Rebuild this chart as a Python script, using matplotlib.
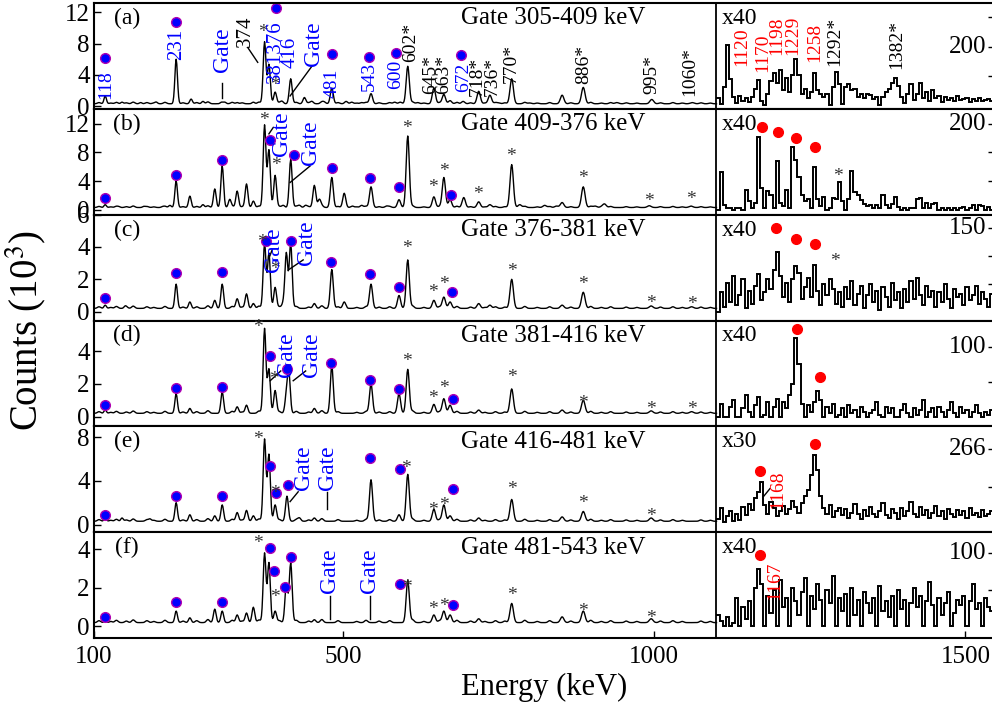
import numpy as np
import matplotlib.pyplot as plt

plt.rcParams['font.family'] = ['Liberation Serif', 'DejaVu Serif']
plt.rcParams['mathtext.fontset'] = 'stix'

E_SPLIT = 1100
E_MAX = 1545.8
RIGHT_BIN = 5

tags = ['(a)', '(b)', '(c)', '(d)', '(e)', '(f)']
gate_titles = ['Gate 305-409 keV', 'Gate 409-376 keV', 'Gate 376-381 keV',
               'Gate 381-416 keV', 'Gate 416-481 keV', 'Gate 481-543 keV']
scale_labels = ['x40', 'x40', 'x40', 'x40', 'x30', 'x40']
ylims = [(-0.35, 13.2), (-0.7, 14.1), (-0.55, 6.0), (-0.6, 5.9), (-0.7, 9.0), (-0.6, 4.9)]
yticks = [[0, 4, 8, 12], [0, 4, 8, 12], [0, 2, 4, 6], [0, 2, 4], [0, 4, 8], [0, 2, 4]]
right_ticks = [[3.8, 7.6, 11.4], [4, 8, 12], [1.73, 3.47, 5.2], [2.15, 4.3], [3.45, 6.9], [1.9, 3.8]]
right_labels = [(7.6, '200'), (12, '200'), (5.2, '150'), (4.3, '100'), (6.9, '266'), (3.8, '100')]
baselines = [0.3, 0.3, 0.2, 0.2, 0.3, 0.2]

# weak background structure seen in every gate (energy keV, fraction of the baseline)
ripple_e = [108, 127, 136, 152, 163, 185, 196, 214, 243, 265, 283, 322, 338, 365, 398, 425,
            445, 466, 492, 522, 537, 558, 575, 612, 630, 655, 683, 705, 728, 745, 760, 792,
            812, 832, 866, 898, 915, 930, 955, 972, 1010, 1030, 1045, 1075, 1090]
ripple_f = [0.5, 0.3, 0.6, 0.4, 0.7, 0.5, 0.3, 0.6, 0.4, 0.5, 0.8, 0.6, 0.4, 0.7, 0.5, 0.6,
            0.4, 0.8, 0.5, 0.3, 0.6, 0.4, 0.5, 0.7, 0.3, 0.5, 0.6, 0.4, 0.3, 0.5, 0.4, 0.6,
            0.3, 0.5, 0.4, 0.6, 0.3, 0.5, 0.4, 0.3, 0.4, 0.5, 0.3, 0.4, 0.3]

# peaks in the 100-1100 keV part: (energy keV, height in 10^3 counts above baseline)
peaks_a = [(118, 1.0), (145, 0.2), (175, 0.15), (200, 0.2), (232, 5.7), (256, 0.6), (275, 0.3),
           (305, 0.2), (310, 0.2), (330, 0.15), (356, 0.2), (374, 7.9), (381, 5.0), (391, 1.5),
           (402, 0.3), (416, 3.2), (438, 0.8), (450, 0.3), (470, 0.2), (482, 2.0), (505, 0.3),
           (514, 0.2), (530, 0.15), (545, 1.3), (583, 0.2), (592, 0.2), (604, 4.8), (620, 0.15),
           (646, 2.0), (662, 1.2), (672, 0.4), (693, 0.3), (718, 1.6), (736, 1.1), (750, 0.1),
           (771, 3.2), (800, 0.1), (852, 1.1), (886, 2.1), (940, 0.15), (996, 0.55), (1061, 0.15)]
peaks_b = [(118, 0.4), (140, 0.1), (180, 0.15), (210, 0.1), (222, 0.3), (232, 3.7), (254, 1.6),
           (275, 0.4), (294, 2.6), (306, 5.8), (318, 1.1), (330, 2.3), (345, 3.3), (356, 0.9),
           (374, 11.5), (381, 8.0), (391, 4.5), (404, 0.3), (416, 6.7), (430, 0.3), (440, 0.3),
           (454, 3.1), (462, 1.1), (482, 4.2), (502, 2.0), (515, 0.2), (530, 0.3), (545, 2.9),
           (570, 0.2), (590, 1.1), (604, 10.0), (646, 1.5), (662, 4.2), (672, 1.1), (694, 1.4),
           (718, 0.8), (736, 0.4), (771, 6.0), (784, 0.4), (824, 0.3), (843, 0.2), (852, 0.7),
           (886, 2.9), (905, 0.2), (920, 0.5), (992, 0.25), (1059, 0.2)]
peaks_c = [(118, 0.2), (150, 0.1), (232, 1.5), (254, 0.4), (294, 0.5), (306, 1.5), (330, 0.6),
           (345, 0.9), (356, 0.3), (374, 4.0), (381, 3.4), (391, 1.3), (404, 0.3), (409, 3.4),
           (416, 4.0), (454, 0.3), (482, 2.4), (502, 0.4), (545, 1.5), (590, 0.8), (604, 3.0),
           (646, 0.5), (662, 0.7), (672, 0.4), (718, 0.3), (736, 0.2), (771, 1.8), (852, 0.2),
           (886, 1.0), (995, 0.15), (1060, 0.1)]
peaks_d = [(118, 0.2), (232, 1.2), (254, 0.3), (306, 1.3), (330, 0.4), (345, 0.5), (374, 5.2),
           (381, 2.7), (391, 1.4), (409, 1.0), (413, 2.4), (454, 0.3), (482, 2.9), (545, 1.8),
           (590, 1.2), (604, 2.7), (646, 0.55), (662, 0.9), (672, 0.5), (718, 0.2), (771, 1.5),
           (852, 0.2), (886, 0.8), (995, 0.15), (1060, 0.1)]
peaks_e = [(118, 0.3), (145, 0.3), (190, 0.2), (232, 1.7), (254, 0.6), (294, 0.5), (306, 1.5),
           (330, 0.8), (345, 1.0), (356, 0.5), (374, 7.5), (381, 6.1), (391, 1.5), (410, 2.3),
           (430, 0.3), (454, 0.3), (545, 3.8), (590, 0.6), (604, 4.3), (646, 1.1), (662, 1.5),
           (672, 0.5), (718, 0.3), (771, 2.0), (852, 0.4), (886, 0.9), (995, 0.3)]
peaks_f = [(118, 0.1), (232, 0.6), (254, 0.25), (294, 0.7), (306, 0.6), (330, 0.4), (345, 0.5),
           (356, 0.8), (374, 3.6), (381, 3.1), (391, 0.6), (409, 2.0), (416, 3.1), (454, 0.15),
           (604, 2.2), (646, 0.4), (662, 0.6), (672, 0.4), (718, 0.2), (771, 1.0), (852, 0.3),
           (886, 0.6), (995, 0.2)]
left_peaks = [peaks_a, peaks_b, peaks_c, peaks_d, peaks_e, peaks_f]

# 1100-1545 keV part, 5 keV bins, already multiplied (shown in 10^3 counts)
high_a = [1.0, 0.3, 2.4, 7.8, 3.5, 1.2, 0.4, 1.3, 0.6, 1.0, 0.5, 1.2, 2.2, 3.4, 0.6, 0.2, 1.5, 3.2,
          4.2, 3.0, 4.6, 2.0, 3.6, 1.8, 4.0, 6.0, 4.0, 1.5, 2.2, 1.0, 1.8, 4.3, 2.0, 1.6, 1.2, 1.6,
          0.2, 2.5, 4.4, 2.8, 0.3, 2.4, 2.8, 2.0, 2.2, 1.2, 1.6, 1.0, 1.6, 1.4, 0.9, 1.2, 0.1, 1.2,
          1.8, 2.2, 3.0, 3.6, 2.6, 1.2, 0.4, 1.5, 2.8, 0.8, 1.6, 2.9, 1.0, 1.8, 0.6, 2.0, 1.0, 1.3,
          0.5, 1.2, 0.8, 1.0, 0.6, 1.3, 0.8, 0.9, 1.1, 0.5, 0.9, 0.7, 1.0, 0.6, 0.8, 0.9, 0.7]
high_b = [0.0, 5.2, 0.6, 0.3, 0.2, 0.0, 0.3, 0.2, 0.0, 2.8, 1.2, 0.3, 1.0, 10.1, 3.0, 0.3, 2.6, 2.0,
          0.2, 6.8, 1.0, 0.5, 2.8, 0.3, 8.7, 7.0, 4.5, 2.0, 1.2, 1.5, 0.3, 5.9, 1.5, 0.5, 1.8, 0.0,
          0.3, 1.6, 1.5, 3.8, 1.2, 0.0, 1.5, 5.4, 2.5, 2.0, 1.3, 0.8, 0.5, 0.7, 0.3, 0.6, 0.2, 2.1,
          0.6, 0.2, 0.8, 1.8, 0.4, 0.0, 0.2, 0.0, 0.3, 0.2, 1.5, 1.6, 0.3, 0.9, 0.2, 0.8, 0.9, 0.0,
          0.3, 0.0, 0.2, 0.0, 0.3, 0.0, 0.2, 0.4, 0.0, 0.3, 0.7, 0.0, 0.6, 0.5, 0.0, 0.4, 0.0]
high_c = [0.0, 1.2, 0.3, 1.8, 0.6, 2.2, 0.4, 1.0, 2.0, 0.2, 1.3, 0.5, 1.6, 2.3, 0.7, 1.2, 2.0, 1.4,
          2.6, 3.7, 2.2, 0.9, 1.8, 0.6, 2.0, 2.8, 2.4, 0.8, 1.5, 2.1, 0.9, 2.9, 1.3, 0.4, 1.7, 1.0,
          2.0, 1.4, 0.5, 1.2, 0.3, 1.5, 0.8, 1.9, 0.4, 1.1, 1.6, 0.2, 1.0, 1.7, 0.6, 1.3, 0.1, 1.5,
          0.9, 0.3, 1.8, 0.7, 1.2, 0.2, 1.4, 0.6, 1.9, 0.8, 2.1, 1.0, 0.4, 1.6, 0.9, 1.3, 0.3, 1.2,
          0.6, 1.7, 0.8, 0.2, 1.4, 0.9, 1.1, 0.4, 1.5, 0.7, 1.0, 1.6, 0.5, 1.2, 0.8, 0.3, 1.1]
high_d = [0.0, 0.8, 0.0, 0.0, 0.6, 1.0, 0.0, 0.0, 0.5, 1.3, 0.3, 0.0, 0.7, 1.2, 0.0, 0.1, 0.9, 0.0,
          0.6, 1.1, 0.0, 0.9, 0.5, 1.3, 2.0, 4.8, 3.2, 0.8, 0.0, 0.7, 0.3, 0.9, 1.6, 1.0, 0.0, 0.6,
          0.2, 0.8, 0.0, 0.1, 0.5, 0.0, 0.7, 0.2, 0.4, 0.0, 0.6, 0.3, 0.0, 0.2, 0.4, 0.9, 0.1, 0.0,
          0.6, 0.2, 0.5, 0.0, 0.0, 0.4, 0.8, 0.2, 0.0, 0.5, 0.1, 0.4, 1.0, 0.0, 0.3, 0.5, 0.0, 0.6,
          0.3, 0.0, 0.4, 0.9, 0.2, 0.0, 0.6, 0.2, 0.4, 0.0, 0.3, 0.7, 0.2, 0.0, 0.3, 0.1, 0.4]
high_e = [0.5, 1.5, 0.2, 0.8, 1.2, 0.3, 1.0, 0.4, 1.6, 0.9, 1.9, 1.3, 2.4, 3.0, 3.9, 1.8, 1.0, 2.1,
          1.5, 0.8, 1.2, 1.7, 1.0, 1.4, 2.2, 1.6, 1.1, 2.0, 2.6, 3.2, 4.5, 6.4, 5.0, 2.6, 1.5, 1.0,
          1.8, 0.7, 1.2, 1.5, 0.9, 1.4, 0.6, 1.1, 1.9, 1.0, 0.5, 1.3, 0.8, 1.6, 1.0, 0.7, 1.2, 2.0,
          0.9, 0.6, 1.4, 1.1, 0.5, 1.5, 0.8, 1.2, 2.1, 1.0, 0.7, 1.6, 0.9, 1.3, 0.6, 1.1, 1.7, 0.8,
          1.2, 0.5, 1.4, 1.0, 0.7, 1.3, 0.9, 1.2, 0.6, 1.5, 0.9, 1.1, 0.7, 1.3, 0.8, 1.0, 1.2]
high_f = [0.6, 0.3, 0.0, 0.5, 0.0, 0.2, 1.5, 0.0, 1.0, 0.4, 1.3, 0.0, 2.0, 3.0, 2.2, 0.0, 1.6, 0.7,
          1.9, 0.0, 2.4, 1.0, 1.5, 0.0, 2.0, 1.3, 0.6, 1.8, 2.5, 0.0, 1.6, 0.9, 2.2, 1.4, 0.0, 1.9,
          1.2, 2.6, 0.0, 1.5, 0.8, 1.7, 0.0, 2.0, 0.6, 1.4, 0.0, 1.8, 1.2, 0.7, 1.5, 0.0, 2.1, 0.8,
          1.3, 0.5, 1.6, 0.0, 1.9, 0.9, 1.4, 0.0, 1.2, 2.0, 1.0, 1.6, 0.0, 1.3, 2.3, 1.1, 0.0, 1.5,
          0.6, 1.2, 1.8, 0.0, 0.7, 1.4, 1.1, 1.6, 0.0, 1.3, 2.2, 0.9, 1.2, 0.0, 1.5, 1.0, 0.8]
high_counts = [high_a, high_b, high_c, high_d, high_e, high_f]

# markers: blue = known transitions, red = new high-energy lines
blue_dots = [
    ([118, 232, 392, 482, 542, 585, 690], [6.2, 10.8, 12.5, 6.7, 6.3, 6.8, 6.6]),
    ([118, 232, 306, 383, 421, 482, 543, 590, 674], [1.7, 4.8, 7.0, 9.7, 7.6, 5.8, 4.4, 3.1, 2.1]),
    ([118, 232, 306, 376, 416, 481, 543, 590, 675], [0.86, 2.4, 2.45, 4.4, 4.4, 3.1, 2.3, 1.5, 1.2]),
    ([118, 232, 306, 383, 410, 481, 543, 590, 676], [0.7, 1.75, 1.8, 3.7, 2.9, 3.3, 2.25, 1.7, 1.05]),
    ([118, 232, 306, 383, 392, 411, 543, 592, 676], [0.9, 2.6, 2.6, 5.4, 2.9, 3.6, 6.1, 5.1, 3.3]),
    ([118, 232, 306, 383, 389, 407, 416, 592, 676], [0.5, 1.25, 1.25, 4.1, 2.9, 2.05, 3.6, 2.2, 1.1]),
]
red_dots = [
    ([], []),
    ([1173, 1199, 1228, 1258], [11.5, 10.8, 10.0, 8.7]),
    ([1196, 1228, 1258], [5.2, 4.5, 4.2]),
    ([1229, 1266], [5.4, 2.4]),
    ([1170, 1258], [4.9, 7.4]),
    ([1170], [3.7]),
]
stars = [
    [(371, 9.4), (391, 2.7)],
    [(373, 12.5), (392, 6.2), (603, 11.4), (645, 3.1), (662, 5.4), (717, 2.1), (770, 7.5),
     (886, 4.4), (992, 1.1), (1059, 1.4), (1295, 4.6)],
    [(370, 4.3), (391, 2.6), (603, 3.9), (645, 1.2), (662, 1.7), (771, 2.5), (886, 1.7),
     (995, 0.5), (1060, 0.45), (1290, 3.1)],
    [(363, 5.5), (389, 2.3), (603, 3.4), (645, 1.1), (662, 1.7), (771, 2.4), (886, 0.8),
     (995, 0.45), (1060, 0.45)],
    [(363, 7.8), (390, 2.8), (601, 5.1), (645, 1.3), (662, 1.75), (771, 3.2), (886, 1.9),
     (995, 0.75)],
    [(363, 4.3), (391, 1.5), (603, 2.05), (645, 0.9), (662, 1.05), (771, 1.6), (886, 0.8),
     (995, 0.4)],
]
# rotated labels: (energy, bottom, text, colour, size)
labels = [
    [(119, 0.9, '118', 'blue', 14), (232, 5.9, '231', 'blue', 15), (306, 4.4, 'Gate', 'blue', 17),
     (344, 7.6, '374', 'black', 15), (392, 3.0, '381376', 'blue', 15), (415, 4.9, '416', 'blue', 15),
     (452, 5.1, 'Gate', 'blue', 17), (482, 1.1, '481', 'blue', 14), (543, 1.9, '543', 'blue', 14),
     (585, 2.2, '600', 'blue', 14), (608, 5.7, '602*', 'black', 14), (640, 1.5, '645*', 'black', 14),
     (662, 1.5, '663*', 'black', 14), (693, 1.8, '672', 'blue', 14), (715, 1.3, '718*', 'black', 14),
     (739, 1.3, '736*', 'black', 14), (771, 3.0, '770*', 'black', 14), (886, 2.8, '886*', 'black', 14),
     (996, 1.5, '995*', 'black', 14), (1057, 1.3, '1060*', 'black', 14),
     (1141, 5.1, '1120', 'red', 14), (1175, 4.4, '1170', 'red', 14), (1196, 6.6, '1198', 'red', 14),
     (1223, 6.6, '1229', 'red', 14), (1258, 5.6, '1258', 'red', 14), (1290, 5.1, '1292*', 'black', 14),
     (1390, 4.7, '1382*', 'black', 14)],
    [(402, 7.5, 'Gate', 'blue', 17), (447, 6.3, 'Gate', 'blue', 17)],
    [(389, 2.45, 'Gate', 'blue', 17), (442, 2.9, 'Gate', 'blue', 17)],
    [(410, 2.4, 'Gate', 'blue', 17), (450, 2.4, 'Gate', 'blue', 17)],
    [(436, 3.2, 'Gate', 'blue', 17), (475, 3.2, 'Gate', 'blue', 17), (1199, 1.4, '1168', 'red', 14)],
    [(479, 1.75, 'Gate', 'blue', 17), (543, 1.75, 'Gate', 'blue', 17), (1194, 1.4, '1167', 'red', 14)],
]
leaders = [
    [((305, 305), (3.0, 1.0)), ((347, 363), (7.5, 5.6)), ((415, 450), (1.3, 5.1))],
    [((381, 388), (10.6, 11.5)), ((415, 447), (3.8, 6.1))],
    [((381, 386), (3.3, 3.8)), ((413, 436), (2.6, 3.2))],
    [((383, 400), (2.2, 2.8)), ((420, 440), (2.2, 2.8))],
    [((415, 428), (2.1, 3.0)), ((475, 475), (1.4, 3.0)), ((1176, 1186), (2.6, 3.3))],
    [((479, 479), (0.4, 1.6)), ((543, 543), (0.4, 1.6))],
]

energy = np.arange(100, E_SPLIT + 1, 1.0)
high_edges = np.arange(E_SPLIT, E_SPLIT + RIGHT_BIN * (len(high_a) + 1), RIGHT_BIN)

fig = plt.figure(figsize=(9.92, 7.07), dpi=100)
W, H = 992.0, 707.0
ax_left, ax_right, top_px, bot_px = 94, 994, 3, 638
panel_h = (bot_px - top_px) / 6.0

axes = []
for i in range(6):
    top = top_px + i * panel_h
    ax = fig.add_axes([ax_left / W, 1 - (top + panel_h) / H, (ax_right - ax_left) / W, panel_h / H])
    axes.append(ax)

    spec = np.full_like(energy, baselines[i])
    for e0, h in left_peaks[i]:
        s = 1.8 + 0.0012 * e0
        spec += h * np.exp(-0.5 * ((energy - e0) / s) ** 2)
    for e0, f in zip(ripple_e, ripple_f):
        spec += f * baselines[i] * np.exp(-0.5 * ((energy - e0) / 2.5) ** 2)
    ax.plot(energy, spec, color='black', lw=1.0)
    ax.stairs(high_counts[i], high_edges, color='black', lw=1.4, baseline=None)
    ax.axvline(E_SPLIT, color='black', lw=1.3)

    ax.set_xlim(100, E_MAX)
    ax.set_ylim(*ylims[i])
    ax.set_yticks(yticks[i])
    ax.tick_params(axis='y', direction='in', length=5, width=1, labelsize=18, pad=3)
    for sp in ax.spines.values():
        sp.set_linewidth(1.5)
    if i < 5:
        ax.set_xticks([])
    else:
        ax.set_xticks([100, 500, 1000, 1500])
        ax.tick_params(axis='x', direction='in', length=5, width=1, labelsize=18, pad=6)

    rax = ax.twinx()
    rax.set_ylim(*ylims[i])
    rax.set_yticks(right_ticks[i])
    rax.set_yticklabels([])
    rax.tick_params(axis='y', direction='in', length=4, width=1)
    for sp in rax.spines.values():
        sp.set_visible(False)
    ry, rtxt = right_labels[i]
    ax.text(1534, ry, rtxt, ha='right', va='center', fontsize=18)

    tr = ax.get_xaxis_transform()
    ax.text(837, 0.855, gate_titles[i], transform=tr, ha='center', va='center', fontsize=18)
    ax.text(153, 0.855, tags[i], transform=tr, ha='center', va='center', fontsize=17)
    ax.text(1108, 0.855, scale_labels[i], transform=tr, ha='left', va='center', fontsize=17)

    bx, by = blue_dots[i]
    ax.plot(bx, by, 'o', ms=7, mfc='blue', mec='#b000b0', mew=1.0, ls='none')
    rx, ry2 = red_dots[i]
    ax.plot(rx, ry2, 'o', ms=7, mfc='red', mec='red', ls='none')
    for ex, ey in stars[i]:
        ax.text(ex, ey, '*', ha='center', va='center', fontsize=14, color='#333333')
    for ex, ey, txt, col, fs in labels[i]:
        ax.text(ex, ey, txt, rotation=90, ha='center', va='bottom', fontsize=fs, color=col)
    for (x0, x1), (y0, y1) in leaders[i]:
        ax.plot([x0, x1], [y0, y1], color='black', lw=1.0)

fig.text(0.026, 0.533, 'Counts (10$^3$)', rotation=90, ha='center', va='center', fontsize=28)
fig.text(0.549, 0.027, 'Energy (keV)', ha='center', va='center', fontsize=22)

fig.savefig('out.png', dpi=100)
